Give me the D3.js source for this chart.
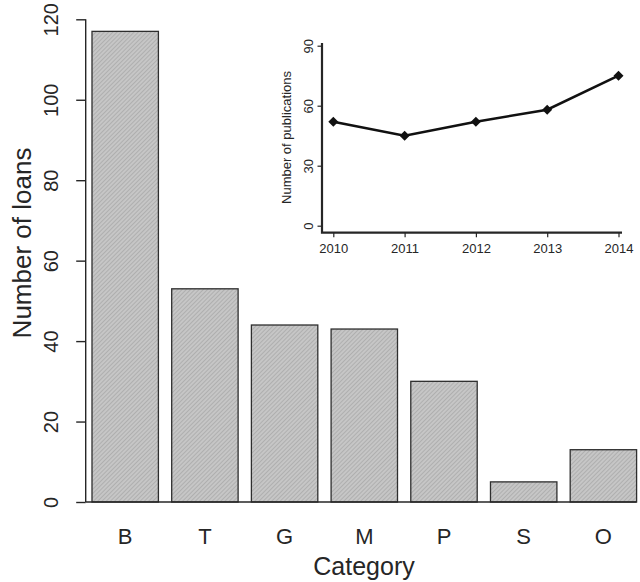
<!DOCTYPE html>
<html>
<head>
<meta charset="utf-8">
<script src="https://cdn.jsdelivr.net/npm/d3@7"></script>
<style>
  html, body { margin: 0; padding: 0; background: #fff; }
  svg { display: block; font-family: "Liberation Sans", Arial, sans-serif; }
</style>
</head>
<body>
<svg id="chart" width="640" height="582"></svg>
<script>
// ---- Data ----
const categories = ["B", "T", "G", "M", "P", "S", "O"];
const loans = [117, 53, 44, 43, 30, 5, 13];
const loanTicks = [0, 20, 40, 60, 80, 100, 120];

const years = [2010, 2011, 2012, 2013, 2014];
const publications = [52, 45, 52, 58, 75];
const pubTicks = [0, 30, 60, 90];

// ---- Setup ----
const svg = d3.select("#chart");
const ink = "#262626";

const defs = svg.append("defs");
const pat = defs.append("pattern")
  .attr("id", "hatch")
  .attr("patternUnits", "userSpaceOnUse")
  .attr("width", 3).attr("height", 3)
  .attr("patternTransform", "rotate(45)");
pat.append("rect").attr("width", 3).attr("height", 3).attr("fill", "#c6c6c6");
pat.append("line").attr("x1", 0).attr("y1", 0).attr("x2", 0).attr("y2", 3)
  .attr("stroke", "#9c9c9c").attr("stroke-width", 1.1);

// ---- Main bar chart ----
const x = d3.scaleBand().domain(categories).range([92, 636.6])
  .paddingInner(1 / 6).paddingOuter(0);
const y = d3.scaleLinear().domain([0, 120]).range([502, 19.3]);

const main = svg.append("g");

main.selectAll("rect.bar").data(categories).join("rect")
  .attr("class", "bar")
  .attr("x", d => x(d))
  .attr("y", (d, i) => y(loans[i]))
  .attr("width", x.bandwidth())
  .attr("height", (d, i) => y(0) - y(loans[i]))
  .attr("fill", "url(#hatch)")
  .attr("stroke", "#2e2e2e")
  .attr("stroke-width", 1.3);

// baseline
main.append("line")
  .attr("x1", 85.7).attr("x2", x.range()[1])
  .attr("y1", y(0)).attr("y2", y(0))
  .attr("stroke", ink).attr("stroke-width", 1.4);

// y axis
const yAxis = d3.axisLeft(y).tickValues(loanTicks).tickSize(9.5).tickPadding(0).tickFormat(d3.format("d"));
const yg = main.append("g").attr("transform", "translate(85.7,0)").call(yAxis);
yg.select(".domain").attr("d", `M-0,${y(120)}V${y(0)}`).attr("stroke", ink).attr("stroke-width", 1.4);
yg.selectAll(".tick line").attr("stroke", ink).attr("stroke-width", 1.4);
yg.selectAll(".tick text")
  .attr("x", null).attr("dy", null)
  .attr("transform", "translate(-28,0) rotate(-90)")
  .attr("text-anchor", "middle")
  .attr("font-size", 20).attr("fill", ink)
  .attr("font-family", "Liberation Sans, Arial, sans-serif");

// x labels
const xAxis = d3.axisBottom(x).tickSize(0).tickPadding(0);
const xg = main.append("g").attr("transform", `translate(0,${y(0)})`).call(xAxis);
xg.select(".domain").remove();
xg.selectAll(".tick text")
  .attr("y", 42).attr("dy", null)
  .attr("font-size", 22).attr("fill", ink)
  .attr("font-family", "Liberation Sans, Arial, sans-serif");

// axis titles
main.append("text")
  .attr("transform", "translate(31,243) rotate(-90)")
  .attr("text-anchor", "middle")
  .attr("font-size", 26).attr("fill", ink)
  .text("Number of loans");
main.append("text")
  .attr("x", 364).attr("y", 575)
  .attr("text-anchor", "middle")
  .attr("font-size", 25).attr("fill", ink)
  .text("Category");

// ---- Inset line chart ----
const ix = d3.scaleLinear().domain([2010, 2014]).range([333.3, 618.5]);
const iy = d3.scaleLinear().domain([0, 90]).range([225.7, 45.7]);
const inset = svg.append("g");
const axisX0 = 322, axisY0 = 232.7;

inset.append("path")
  .attr("d", `M${axisX0},43V${axisY0}H622`)
  .attr("fill", "none").attr("stroke", ink).attr("stroke-width", 2.2);

const iyAxis = d3.axisLeft(iy).tickValues(pubTicks).tickSize(4.5).tickPadding(0);
const iyg = inset.append("g").attr("transform", `translate(${axisX0},0)`).call(iyAxis);
iyg.select(".domain").remove();
iyg.selectAll(".tick line").attr("stroke", ink).attr("stroke-width", 1.2);
iyg.selectAll(".tick text")
  .attr("x", null).attr("dy", null)
  .attr("transform", "translate(-9.5,0) rotate(-90)")
  .attr("text-anchor", "middle")
  .attr("font-size", 13).attr("fill", ink)
  .attr("font-family", "Liberation Sans, Arial, sans-serif");

const ixAxis = d3.axisBottom(ix).tickValues(years).tickSize(4.5).tickPadding(0).tickFormat(d3.format("d"));
const ixg = inset.append("g").attr("transform", `translate(0,${axisY0})`).call(ixAxis);
ixg.select(".domain").remove();
ixg.selectAll(".tick line").attr("stroke", ink).attr("stroke-width", 1.2);
ixg.selectAll(".tick text")
  .attr("y", 20).attr("dy", null)
  .attr("font-size", 13).attr("fill", ink)
  .attr("font-family", "Liberation Sans, Arial, sans-serif");

inset.append("text")
  .attr("transform", "translate(291,137.5) rotate(-90)")
  .attr("text-anchor", "middle")
  .attr("font-size", 13).attr("fill", ink)
  .text("Number of publications");

const line = d3.line().x((d, i) => ix(years[i])).y(d => iy(d));
inset.append("path")
  .datum(publications)
  .attr("d", line)
  .attr("fill", "none").attr("stroke", "#111").attr("stroke-width", 2.6);

inset.selectAll("path.pt").data(publications).join("path")
  .attr("class", "pt")
  .attr("transform", (d, i) => `translate(${ix(years[i])},${iy(d)})`)
  .attr("d", "M0,-5L5,0L0,5L-5,0Z")
  .attr("fill", "#111");
</script>
</body>
</html>
